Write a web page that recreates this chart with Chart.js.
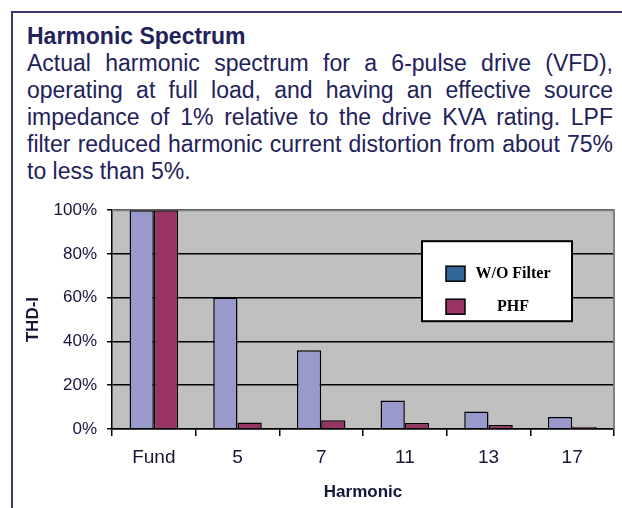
<!DOCTYPE html>
<html lang="en">
<head>
<meta charset="UTF-8">
<title>Harmonic Spectrum</title>
<script src="https://cdn.jsdelivr.net/npm/chart.js@4"></script>
<style>
    body {
        margin: 0;
        background: #fff;
        width: 622px;
        height: 508px;
        overflow: hidden;
        position: relative;
        font-family: "Liberation Sans", Arial, sans-serif;
    }
    .frame {
        position: absolute;
        left: 11px; top: 11px;
        width: 640px; height: 520px;
        border-left: 2px solid #3a3a70;
        border-top: 2px solid #3a3a70;
    }
    .text {
        position: absolute;
        left: 27px; top: 23px;
        width: 586px;
        font-size: 23px;
        line-height: 27px;
        color: #22225a;
    }
    .text h1 { font-size: 23px; line-height: 27px; margin: 0; font-weight: bold; }
    .text .ln { text-align: justify; text-align-last: justify; white-space: nowrap; }
    .text .ln.last { text-align-last: left; }
    #wrap { position: absolute; left: 0; top: 190px; width: 622px; height: 318px; }
</style>
</head>
<body>
<div class="frame"></div>
<div class="text">
    <h1>Harmonic Spectrum</h1>
    <div class="ln">Actual harmonic spectrum for a 6-pulse drive (VFD),</div>
    <div class="ln">operating at full load, and having an effective source</div>
    <div class="ln">impedance of 1% relative to the drive KVA rating. LPF</div>
    <div class="ln">filter reduced harmonic current distortion from about 75%</div>
    <div class="ln last">to less than 5%.</div>
</div>
<div id="wrap"><canvas id="chart"></canvas></div>

<script>
// data (percent of fundamental)
const categories = ['Fund', '5', '7', '11', '13', '17'];
const withoutFilter = [100, 60, 36, 13, 8, 5.5];
const phf = [100, 3, 4, 2.7, 1.8, 1];
const seriesNames = ['W/O Filter', 'PHF'];
const barColors = ['#9999cc', '#993366'];
const legendColors = ['#336699', '#993366'];

const labelColor = '#16163a';

// grey plot background + grey top/right frame
const plotBg = {
    id: 'plotBg',
    beforeDraw(chart) {
        const { ctx, chartArea: a } = chart;
        ctx.save();
        ctx.fillStyle = '#c0c0c0';
        ctx.fillRect(a.left, a.top, a.right - a.left, a.bottom - a.top);
        ctx.restore();
    },
    beforeDatasetsDraw(chart) {
        const { ctx, chartArea: a } = chart;
        ctx.save();
        ctx.strokeStyle = '#808080';
        ctx.lineWidth = 2;
        ctx.beginPath();
        ctx.moveTo(a.left, a.top);
        ctx.lineTo(a.right, a.top);
        ctx.lineTo(a.right, a.bottom);
        ctx.stroke();
        ctx.restore();
    }
};

// boxed legend sitting inside the plot
const boxLegend = {
    id: 'boxLegend',
    afterDatasetsDraw(chart) {
        const { ctx, chartArea: a } = chart;
        const x = a.left + 310, y = a.top + 31, w = 150, h = 80;
        ctx.save();
        ctx.fillStyle = '#fff';
        ctx.fillRect(x, y, w, h);
        ctx.lineWidth = 2;
        ctx.strokeStyle = '#000';
        ctx.strokeRect(x, y, w, h);
        ctx.font = 'bold 16px "Liberation Serif", "Times New Roman", serif';
        ctx.textAlign = 'center';
        ctx.textBaseline = 'middle';
        chart.data.datasets.forEach((ds, i) => {
            const sy = y + 25 + i * 33;
            ctx.fillStyle = legendColors[i];
            ctx.fillRect(x + 24, sy, 19, 15);
            ctx.lineWidth = 1.5;
            ctx.strokeRect(x + 24, sy, 19, 15);
            ctx.fillStyle = '#000';
            ctx.fillText(ds.label, x + 91, sy + 8);
        });
        ctx.restore();
    }
};

new Chart(document.getElementById('chart'), {
    type: 'bar',
    data: {
        labels: categories,
        datasets: [
            { label: seriesNames[0], data: withoutFilter, backgroundColor: barColors[0] },
            { label: seriesNames[1], data: phf, backgroundColor: barColors[1] }
        ]
    },
    options: {
        responsive: true,
        maintainAspectRatio: false,
        animation: false,
        layout: { padding: { left: 0, right: 8, top: 16, bottom: 0 } },
        datasets: {
            bar: {
                categoryPercentage: 0.58,
                barPercentage: 1,
                borderColor: '#000',
                borderWidth: 1.5
            }
        },
        plugins: {
            legend: { display: false },
            tooltip: { enabled: false }
        },
        scales: {
            x: {
                afterFit(scale) { scale.height = 79; },
                grid: {
                    offset: true,
                    drawOnChartArea: false,
                    color: '#000',
                    tickLength: 7,
                    lineWidth: 1.5
                },
                border: { color: '#000', width: 1.5 },
                ticks: {
                    color: labelColor,
                    padding: 10,
                    font: { family: '"Liberation Sans", Arial, sans-serif', size: 19 }
                },
                title: {
                    display: true,
                    text: 'Harmonic',
                    color: labelColor,
                    padding: { top: 0, bottom: 5 },
                    font: { family: '"Liberation Sans", Arial, sans-serif', size: 17, weight: 'bold' }
                }
            },
            y: {
                min: 0,
                max: 100,
                afterFit(scale) { scale.width = 112; },
                grid: { color: '#000', lineWidth: 1.5, tickLength: 5 },
                border: { color: '#000', width: 1.5 },
                ticks: {
                    stepSize: 20,
                    color: labelColor,
                    padding: 10,
                    callback: v => v + '%',
                    font: { family: '"Liberation Sans", Arial, sans-serif', size: 17 }
                },
                title: {
                    display: true,
                    text: 'THD-I',
                    color: labelColor,
                    padding: { top: 23, bottom: 0 },
                    font: { family: '"Liberation Sans", Arial, sans-serif', size: 17, weight: 'bold' }
                }
            }
        }
    },
    plugins: [plotBg, boxLegend]
});
</script>
</body>
</html>
